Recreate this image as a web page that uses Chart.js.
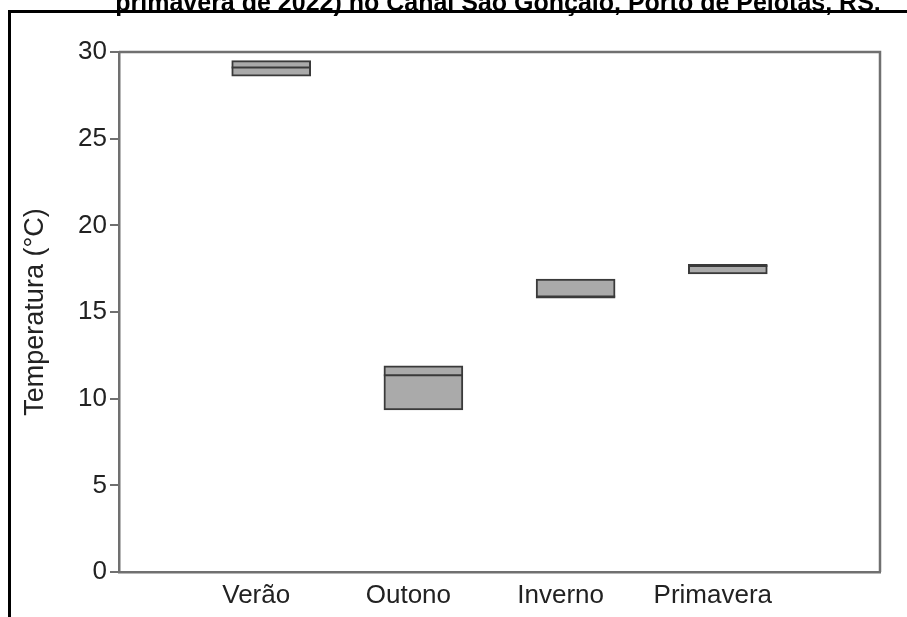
<!DOCTYPE html>
<html>
<head>
<meta charset="utf-8">
<script src="https://cdn.jsdelivr.net/npm/chart.js@4.4.0/dist/chart.umd.min.js"></script>
<style>
  html, body { margin: 0; padding: 0; background: #fff; }
  #wrap { position: relative; width: 907px; height: 617px; overflow: hidden; }
  #myChart { position: absolute; left: 0; top: 0; }
  #frame { position: absolute; left: 8px; top: 10px; width: 920px; height: 640px;
           border-left: 3px solid #000; border-top: 3px solid #000; }
  #title { position: absolute; left: 498px; top: -10px; transform: translateX(-50%);
           white-space: nowrap; font: bold 25px "Liberation Sans", Arial, sans-serif;
           line-height: 25px; color: #000; }
</style>
</head>
<body>
<div id="wrap">
  <canvas id="myChart" width="907" height="617"></canvas>
  <div id="frame"></div>
  <div id="title">primavera de 2022) no Canal São Gonçalo, Porto de Pelotas, RS.</div>
</div>
<script>
const categories = ['Verão', 'Outono', 'Inverno', 'Primavera'];
const q1 = [28.6, 9.35, 15.8, 17.2];
const q3 = [29.5, 11.9, 16.9, 17.75];
const medians = [29.1, 11.35, 15.9, 17.65];
const yTicks = [0, 5, 10, 15, 20, 25, 30];

const axisColor = '#707070';
const fontFamily = '"Liberation Sans", Arial, sans-serif';
const tickFont = { family: fontFamily, size: 26 };
const halfBox = 0.26; // half of the box width in x units

// median as short segments across each box, broken by gaps
const medianPoints = [];
medians.forEach((m, i) => {
    medianPoints.push({ x: i + 1 - halfBox, y: m });
    medianPoints.push({ x: i + 1 + halfBox, y: m });
    medianPoints.push({ x: i + 1.5, y: null });
});

// top and right edges of the plot box
const boxFrame = {
    id: 'boxFrame',
    beforeDatasetsDraw(chart) {
        const { ctx, chartArea: a } = chart;
        ctx.save();
        ctx.strokeStyle = axisColor;
        ctx.lineWidth = 2.5;
        ctx.beginPath();
        ctx.moveTo(a.left, a.top);
        ctx.lineTo(a.right, a.top);
        ctx.lineTo(a.right, a.bottom);
        ctx.stroke();
        ctx.restore();
    }
};

const ctx = document.getElementById('myChart');

new Chart(ctx, {
    type: 'bar',
    data: {
        datasets: [{
            label: 'Caixa',
            data: categories.map((c, i) => ({ x: i + 1, y: [q1[i], q3[i]] })),
            backgroundColor: '#aaaaaa',
            borderColor: '#3a3a3a',
            borderWidth: 2,
            borderSkipped: false,
            barThickness: 79,
            order: 2
        }, {
            type: 'line',
            label: 'Mediana',
            data: medianPoints,
            spanGaps: false,
            pointRadius: 0,
            borderColor: '#3a3a3a',
            borderWidth: 2,
            order: 1
        }]
    },
    options: {
        responsive: false,
        animation: false,
        layout: { padding: { top: 52, right: 27, bottom: 0, left: 0 } },
        plugins: { legend: { display: false }, tooltip: { enabled: false } },
        scales: {
            x: {
                type: 'linear',
                min: 0,
                max: 5,
                offset: false,
                afterBuildTicks(scale) {
                    scale.ticks = [0, 1, 2, 3, 4, 5].map(v => ({ value: v }));
                },
                afterFit(scale) { scale.height = 45; },
                grid: { display: false },
                border: { display: true, color: axisColor, width: 2.5 },
                ticks: {
                    color: '#222',
                    font: tickFont,
                    padding: 0,
                    labelOffset: -15,
                    maxRotation: 0,
                    autoSkip: false,
                    callback: (v) => categories[v - 1] || ''
                }
            },
            y: {
                min: 0,
                max: 30,
                afterBuildTicks(scale) {
                    scale.ticks = yTicks.map(v => ({ value: v }));
                },
                afterFit(scale) { scale.width = 119; },
                grid: { drawOnChartArea: false, color: axisColor, lineWidth: 2, tickLength: 9 },
                border: { display: true, color: axisColor, width: 2.5 },
                ticks: { color: '#222', font: tickFont, padding: 3 },
                title: {
                    display: true,
                    text: 'Temperatura (°C)',
                    color: '#222',
                    font: { family: fontFamily, size: 27 },
                    padding: { top: 19, bottom: 0 }
                }
            }
        }
    },
    plugins: [boxFrame]
});
</script>
</body>
</html>
